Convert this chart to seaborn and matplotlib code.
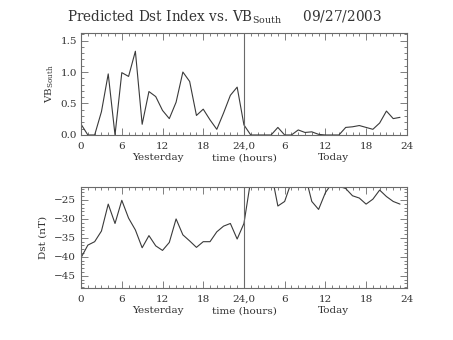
import numpy as np
import pandas as pd
import matplotlib
matplotlib.use("Agg")
import matplotlib.pyplot as plt
import seaborn as sns
from matplotlib.ticker import MultipleLocator, FixedLocator

hours = list(range(48))
vb_south = [0.17, 0.0, 0.0, 0.37, 0.97, 0.0, 0.99, 0.93, 1.33, 0.17, 0.69, 0.61,
            0.39, 0.26, 0.52, 1.00, 0.85, 0.31, 0.41, 0.24, 0.09, 0.35, 0.63, 0.76,
            0.16, 0.0, 0.0, 0.0, 0.0, 0.12, 0.0, 0.0, 0.08, 0.04, 0.05, 0.01,
            0.0, 0.0, 0.0, 0.12, 0.13, 0.15, 0.12, 0.09, 0.19, 0.38, 0.26, 0.28]
dst = [-40.2, -36.9, -36.0, -33.2, -26.1, -31.2, -25.1, -29.8, -32.9, -37.6, -34.4, -37.1,
       -38.3, -36.2, -30.0, -34.2, -35.8, -37.5, -36.0, -36.0, -33.4, -31.9, -31.2, -35.3,
       -31.2, -19.8, -19.0, -18.5, -17.5, -26.6, -25.4, -20.2, -19.0, -18.3, -25.4, -27.5,
       -23.1, -20.5, -21.4, -22.0, -23.9, -24.5, -26.1, -24.8, -22.4, -24.1, -25.4, -26.1]
xtick_pos = [0, 6, 12, 18, 24, 30, 36, 42, 48]
xtick_labels = ["0", "6", "12", "18", "24,0", "6", "12", "18", "24"]
title_text = "Predicted Dst Index vs. VB$_{\\mathrm{South}}$     09/27/2003"

df = pd.DataFrame({"hour": hours, "vb": vb_south, "dst": dst})

sns.set_theme(style="ticks")
plt.rcParams["font.family"] = ["DejaVu Serif"]
plt.rcParams["mathtext.fontset"] = "dejavuserif"

AX_C = "#6a6a6a"
LINE_C = "#3a3a3a"
TXT_C = "#333333"

fig = plt.figure(figsize=(4.53, 3.40), dpi=100)
ax1 = fig.add_axes([0.179, 0.603, 0.719, 0.300])
ax2 = fig.add_axes([0.179, 0.153, 0.719, 0.298])

sns.lineplot(data=df, x="hour", y="vb", ax=ax1, color=LINE_C, linewidth=0.8)
sns.lineplot(data=df, x="hour", y="dst", ax=ax2, color=LINE_C, linewidth=0.8)

ax1.set_ylim(0, 1.62)
ax1.yaxis.set_major_locator(FixedLocator([0, 0.5, 1.0, 1.5]))
ax1.yaxis.set_minor_locator(MultipleLocator(0.1))
ax1.set_yticklabels(["0.0", "0.5", "1.0", "1.5"])
ax2.set_ylim(-48.2, -21.5)
ax2.yaxis.set_major_locator(FixedLocator([-45, -40, -35, -30, -25]))
ax2.yaxis.set_minor_locator(MultipleLocator(1))

for ax in (ax1, ax2):
    ax.set_xlim(0, 48)
    ax.set_xticks(xtick_pos)
    ax.set_xticklabels(xtick_labels)
    ax.xaxis.set_minor_locator(MultipleLocator(1))
    ax.axvline(24, color=AX_C, linewidth=0.8)
    for s in ax.spines.values():
        s.set_visible(True)
        s.set_color(AX_C)
        s.set_linewidth(0.8)
    ax.tick_params(which="both", direction="in", top=True, right=True,
                   color=AX_C, width=0.6, labelsize=7.5, labelcolor=TXT_C)
    ax.tick_params(axis="x", pad=5)
    ax.tick_params(which="major", length=5)
    ax.tick_params(which="minor", length=2.5)
    ax.set_xlabel("")
    ax.text(0.236, -0.225, "Yesterday", transform=ax.transAxes, ha="center",
            va="center", fontsize=7.5, color=TXT_C)
    ax.text(0.5, -0.225, "time (hours)", transform=ax.transAxes, ha="center",
            va="center", fontsize=7.5, color=TXT_C)
    ax.text(0.775, -0.225, "Today", transform=ax.transAxes, ha="center",
            va="center", fontsize=7.5, color=TXT_C)

ax1.tick_params(axis="y", pad=3)
ax2.tick_params(axis="y", pad=4)
ax1.set_ylabel("VB$_{\\mathrm{South}}$", fontsize=7.5, color=TXT_C, labelpad=3)
ax2.set_ylabel("Dst (nT)", fontsize=7.5, color=TXT_C, labelpad=4)
ax1.text(0.44, 1.07, title_text, transform=ax1.transAxes, ha="center",
         va="bottom", fontsize=9.8, color=TXT_C)

fig.savefig("out.png", dpi=100, facecolor="white")
